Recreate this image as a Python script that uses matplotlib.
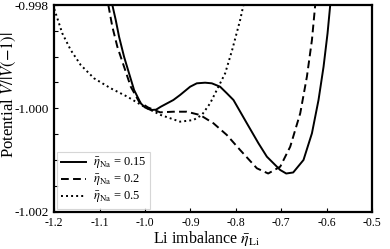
import matplotlib
matplotlib.use("Agg")
import matplotlib.pyplot as plt
from matplotlib.ticker import MultipleLocator, FormatStrFormatter

plt.rcParams['font.family'] = ['Liberation Serif', 'DejaVu Serif']
plt.rcParams['mathtext.fontset'] = 'stix'
plt.rcParams['axes.unicode_minus'] = False

# eta_Na = 0.15
x_015 = [-1.0721, -1.0646, -1.0573, -1.0463, -1.0353, -1.0242, -1.0095, -1.0000,
         -0.9874, -0.9757, -0.9653, -0.9376, -0.9228, -0.9007, -0.8860, -0.8677,
         -0.8529, -0.8346, -0.8198, -0.8052, -0.7757, -0.7501, -0.7316, -0.7022,
         -0.6890, -0.6736, -0.6509, -0.6323, -0.6178, -0.6067, -0.5979, -0.5920]
y_015 = [-0.998000, -0.998291, -0.998614, -0.999001, -0.999323, -0.999646, -0.999904, -0.999985,
         -1.000034, -1.000027, -0.999970, -0.999840, -0.999743, -0.999583, -0.999517, -0.999505,
         -0.999517, -0.999583, -0.999710, -0.999840, -1.000291, -1.000679, -1.000938, -1.001196,
         -1.001264, -1.001244, -1.001002, -1.000485, -0.999840, -0.999195, -0.998548, -0.998000]

# eta_Na = 0.2
x_02 = [-1.0809, -1.0721, -1.0611, -1.0463, -1.0315, -1.0132, -0.9934, -0.9669,
        -0.9376, -0.9080, -0.8787, -0.8493, -0.8198, -0.7905, -0.7536, -0.7287,
        -0.7022, -0.6802, -0.6581, -0.6434, -0.6323, -0.6251]
y_02 = [-0.998000, -0.998420, -0.998808, -0.999195, -0.999583, -0.999873, -0.999985, -1.000079,
        -1.000067, -1.000067, -1.000131, -1.000291, -1.000518, -1.000809, -1.001163, -1.001264,
        -1.001132, -1.000745, -1.000098, -0.999389, -0.998678, -0.998000]

# eta_Na = 0.5
x_05 = [-1.2000, -1.1969, -1.1824, -1.1638, -1.1418, -1.1124, -1.0756, -1.0390,
        -1.0022, -0.9653, -0.9228, -0.8934, -0.8749, -0.8566, -0.8383, -0.8235,
        -0.8081, -0.7905, -0.7832]
y_05 = [-0.998077, -0.998161, -0.998548, -0.998872, -0.999162, -0.999420, -0.999614, -0.999776,
        -0.999970, -1.000131, -1.000260, -1.000228, -1.000131, -0.999904, -0.999583, -0.999323,
        -0.998872, -0.998291, -0.998000]

labels = [r'$\bar{\eta}_{\rm Na}$ = 0.15', r'$\bar{\eta}_{\rm Na}$ = 0.2', r'$\bar{\eta}_{\rm Na}$ = 0.5']

fig = plt.figure(figsize=(3.9, 2.49), dpi=100)
ax = fig.add_axes([0.1392, 0.1506, 0.8146, 0.8293])

ax.plot(x_015, y_015, color='black', lw=1.4, ls='-', label=labels[0])
ax.plot(x_02, y_02, color='black', lw=1.4, ls=(0, (4, 2.2)), label=labels[1])
ax.plot(x_05, y_05, color='black', lw=1.4, ls=(0, (1, 1.6)), label=labels[2])

ax.set_xlim(-1.2, -0.5)
ax.set_ylim(-1.002, -0.998)
ax.xaxis.set_major_locator(MultipleLocator(0.1))
ax.xaxis.set_major_formatter(FormatStrFormatter('%.1f'))
ax.yaxis.set_major_locator(MultipleLocator(0.002))
ax.yaxis.set_minor_locator(MultipleLocator(0.0005))
ax.yaxis.set_major_formatter(FormatStrFormatter('%.3f'))
ax.tick_params(which='both', direction='in', top=False, right=False, pad=4)
ax.tick_params(axis='x', labelsize=8.5)
ax.tick_params(axis='y', labelsize=9.5)
ax.tick_params(which='major', length=3, width=0.8)
ax.tick_params(which='minor', length=3, width=0.8)
for s in ax.spines.values():
    s.set_linewidth(1.6)

ax.set_xlabel(r'Li imbalance $\bar{\eta}_{\rm Li}$', fontsize=11.5)
ax.xaxis.set_label_coords(0.481, -0.085)
ax.set_ylabel(r'Potential $V/|V(-1)|$', fontsize=12)
ax.yaxis.set_label_coords(-0.115, 0.565)

leg = ax.legend(loc='lower left', fontsize=9, frameon=True, fancybox=False,
                handlelength=2.0, handletextpad=0.6, borderpad=0.3, labelspacing=0.15,
                borderaxespad=0.2, bbox_to_anchor=(0.0, 0.0))
leg.get_frame().set_edgecolor('#cccccc')
leg.get_frame().set_linewidth(0.8)

fig.savefig('out.png', dpi=100)
